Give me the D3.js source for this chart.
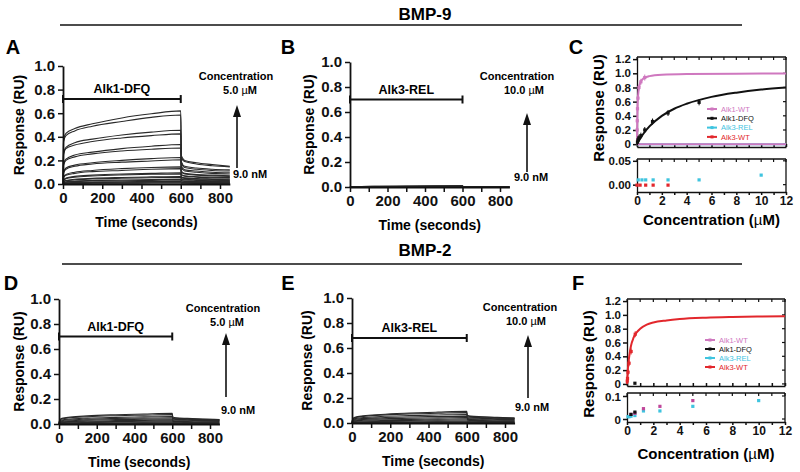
<!DOCTYPE html>
<html><head><meta charset="utf-8">
<script src="https://cdn.jsdelivr.net/npm/d3@7"></script>
<style>body{margin:0;background:#fff}svg{display:block}</style>
</head><body>
<svg id="chart" width="800" height="472"></svg>
<script>
// ---------------- DATA ----------------
const sgTimes = [0, 3, 15, 60, 150, 300, 450, 600, 603, 620, 680, 760, 850];
const timeTicks = [0, 100, 200, 300, 400, 500, 600, 700, 800];
const responseTicks = [0, 0.2, 0.4, 0.6, 0.8, 1.0];

const curvesA = [
  [0,0.38,0.43,0.47,0.51,0.56,0.595,0.62,0.24,0.20,0.18,0.165,0.15],
  [0,0.36,0.41,0.45,0.49,0.53,0.565,0.585,0.225,0.19,0.17,0.155,0.145],
  [0,0.26,0.31,0.35,0.38,0.415,0.44,0.455,0.19,0.15,0.135,0.125,0.12],
  [0,0.25,0.30,0.33,0.36,0.39,0.41,0.425,0.18,0.14,0.125,0.115,0.11],
  [0,0.17,0.21,0.245,0.27,0.30,0.32,0.335,0.15,0.12,0.11,0.10,0.095],
  [0,0.16,0.20,0.23,0.255,0.28,0.295,0.305,0.14,0.11,0.10,0.09,0.085],
  [0,0.10,0.135,0.16,0.18,0.20,0.215,0.225,0.11,0.09,0.08,0.075,0.07],
  [0,0.095,0.125,0.15,0.17,0.185,0.195,0.205,0.10,0.085,0.075,0.07,0.065],
  [0,0.06,0.08,0.10,0.115,0.13,0.14,0.145,0.08,0.07,0.062,0.058,0.055],
  [0,0.055,0.075,0.09,0.105,0.115,0.125,0.13,0.075,0.065,0.058,0.053,0.05],
  [0,0.035,0.05,0.065,0.075,0.085,0.09,0.095,0.06,0.052,0.046,0.043,0.04],
  [0,0.03,0.045,0.058,0.068,0.077,0.082,0.086,0.055,0.048,0.042,0.039,0.036],
  [0,0.02,0.03,0.04,0.048,0.055,0.06,0.063,0.045,0.04,0.035,0.032,0.03],
  [0,0.018,0.027,0.036,0.043,0.049,0.053,0.056,0.04,0.035,0.031,0.028,0.026],
  [0,0.012,0.018,0.025,0.03,0.034,0.037,0.039,0.03,0.026,0.023,0.021,0.02],
  [0,0.01,0.015,0.021,0.025,0.028,0.031,0.033,0.025,0.022,0.02,0.018,0.017],
  [0,0.006,0.01,0.013,0.016,0.019,0.021,0.022,0.018,0.016,0.014,0.013,0.012],
  [0,0.005,0.008,0.011,0.013,0.015,0.017,0.018,0.015,0.013,0.012,0.011,0.01],
  [0,0.003,0.005,0.007,0.008,0.009,0.01,0.011,0.009,0.008,0.007,0.007,0.006],
  [0,0.002,0.004,0.005,0.006,0.007,0.008,0.008,0.007,0.006,0.005,0.005,0.005]
];
const curvesB = [
  [0,0.002,0.003,0.004,0.005,0.007,0.009,0.011,0.004,0.003,0.003,0.002,0.002],
  [0,0.002,0.003,0.004,0.005,0.006,0.008,0.009,0.003,0.003,0.002,0.002,0.002],
  [0,0.001,0.002,0.003,0.004,0.005,0.006,0.007,0.003,0.002,0.002,0.002,0.001],
  [0,0.001,0.002,0.002,0.003,0.004,0.005,0.005,0.002,0.002,0.001,0.001,0.001],
  [0,0.001,0.001,0.002,0.002,0.003,0.003,0.004,0.002,0.001,0.001,0.001,0.001],
  [0,0.000,0.001,0.001,0.001,0.002,0.002,0.002,0.001,0.001,0.001,0.000,0.000]
];
const curvesD = [
  [0,0.03,0.045,0.055,0.065,0.074,0.08,0.085,0.056,0.05,0.045,0.04,0.036],
  [0,0.025,0.04,0.05,0.058,0.066,0.071,0.075,0.05,0.046,0.042,0.038,0.034],
  [0,0.02,0.032,0.04,0.047,0.053,0.057,0.06,0.045,0.042,0.038,0.035,0.032],
  [0,0.016,0.026,0.033,0.039,0.044,0.047,0.05,0.04,0.037,0.034,0.031,0.029],
  [0,0.012,0.02,0.026,0.031,0.035,0.038,0.04,0.034,0.032,0.03,0.028,0.026],
  [0,0.009,0.015,0.02,0.024,0.027,0.029,0.031,0.028,0.026,0.024,0.023,0.021],
  [0,0.006,0.011,0.015,0.018,0.02,0.022,0.023,0.021,0.02,0.019,0.018,0.017],
  [0,0.004,0.007,0.01,0.012,0.014,0.015,0.016,0.015,0.014,0.013,0.012,0.012],
  [0,0.002,0.004,0.006,0.007,0.008,0.009,0.01,0.009,0.009,0.008,0.008,0.007],
  [0,0.001,0.002,0.003,0.004,0.004,0.005,0.005,0.005,0.005,0.004,0.004,0.004]
];
const curvesE = [
  [0,0.03,0.045,0.057,0.068,0.079,0.087,0.093,0.062,0.055,0.05,0.045,0.04],
  [0,0.027,0.042,0.053,0.063,0.072,0.078,0.083,0.057,0.051,0.047,0.043,0.039],
  [0,0.022,0.035,0.044,0.052,0.059,0.064,0.068,0.05,0.046,0.042,0.039,0.036],
  [0,0.018,0.028,0.036,0.042,0.048,0.052,0.055,0.043,0.04,0.037,0.034,0.032],
  [0,0.014,0.022,0.029,0.034,0.038,0.041,0.043,0.036,0.034,0.031,0.029,0.027],
  [0,0.01,0.017,0.022,0.026,0.029,0.031,0.033,0.029,0.027,0.025,0.024,0.022],
  [0,0.007,0.012,0.016,0.019,0.021,0.023,0.024,0.022,0.021,0.019,0.018,0.017],
  [0,0.004,0.008,0.01,0.012,0.014,0.015,0.016,0.015,0.014,0.013,0.012,0.012],
  [0,0.002,0.004,0.006,0.007,0.008,0.009,0.01,0.009,0.009,0.008,0.008,0.007],
  [0,0.001,0.002,0.003,0.004,0.004,0.005,0.005,0.005,0.005,0.004,0.004,0.004]
];

// Steady-state binding (panels C and F)
const seriesNames = ["Alk1-WT", "Alk1-DFQ", "Alk3-REL", "Alk3-WT"];
const seriesColors = ["#cf78bf", "#111111", "#3fc4df", "#e2272c"];
const concTicks = [0, 1, 2, 3, 4, 5, 6, 7, 8, 9, 10, 11, 12];
const upperTicks = [0, 0.2, 0.4, 0.6, 0.8, 1.0, 1.2];

// Panel C (BMP-9)
const cFitAlk1WT_x = [0,0.01,0.02,0.05,0.1,0.2,0.3,0.5,1,2,4,8,12];
const cFitAlk1WT_y = [0,0.2,0.33,0.56,0.71,0.83,0.88,0.925,0.96,0.98,0.99,0.995,0.997];
const cPtsAlk1WT_x = [0.0098,0.0195,0.039,0.078,0.156,0.3125,0.625];
const cPtsAlk1WT_y = [0.2,0.33,0.5,0.65,0.8,0.88,0.94];
const cFitAlk1DFQ_x = [0,0.25,0.5,1,2,3,4,6,8,10,12];
const cFitAlk1DFQ_y = [0,0.077,0.143,0.25,0.4,0.5,0.57,0.667,0.727,0.77,0.8];
const cPtsAlk1DFQ_x = [0.039,0.078,0.156,0.3125,0.625,1.25,2.5,5];
const cPtsAlk1DFQ_y = [0.03,0.06,0.09,0.12,0.2,0.32,0.44,0.59];
const cLowAlk3REL_x = [0.1,0.4,0.7,1.3,2.5,5,10];
const cLowAlk3REL_y = [0.01,0.01,0.01,0.01,0.01,0.01,0.02];
const cLowAlk3WT_x = [0,0.25,0.7,1.3,2.5];
const cLowAlk3WT_y = [-0.001,-0.001,-0.001,-0.001,-0.001];

// Panel F (BMP-2)
const fFitAlk3WT_x = [0,0.05,0.1,0.2,0.3,0.5,0.75,1,1.5,2,3,4,6,8,10,12];
const fFitAlk3WT_y = [0,0.17,0.29,0.44,0.55,0.67,0.75,0.8,0.86,0.89,0.92,0.94,0.96,0.97,0.976,0.98];
const fPtsAlk3WT_x = [0.0195,0.039,0.078,0.156,0.3125,0.625];
const fPtsAlk3WT_y = [0.04,0.08,0.17,0.3,0.47,0.72];
const fLowAlk1WT_x = [0.3,0.6,1.25,2.5,5];
const fLowAlk1WT_y = [0.02,0.025,0.045,0.055,0.08];
const fLowAlk3REL_x = [0.08,0.16,0.3,0.6,1.25,2.5,5,10];
const fLowAlk3REL_y = [0.01,0.01,0.012,0.015,0.035,0.035,0.055,0.08];
const fLowAlk1DFQ_x = [0.3,0.6];
const fLowAlk1DFQ_y = [0.02,0.03];

// ---------------- DRAWING ----------------
const FONT = "'Liberation Sans', Arial, Helvetica, sans-serif";
const svg = d3.select("#chart").style("font-family", FONT);
svg.append("rect").attr("width", 800).attr("height", 472).attr("fill", "#fff");

function header(text, cx, cy, lineY, x1, x2) {
  svg.append("text").attr("x", cx).attr("y", cy).attr("text-anchor", "middle")
    .attr("font-size", 17).attr("font-weight", "bold").text(text);
  svg.append("line").attr("x1", x1).attr("x2", x2).attr("y1", lineY).attr("y2", lineY)
    .attr("stroke", "#111").attr("stroke-width", 1.6);
}
header("BMP-9", 425, 20, 25, 60, 742);
header("BMP-2", 425, 256, 264, 62, 742);

function letter(t, x, y) {
  svg.append("text").attr("x", x).attr("y", y).attr("text-anchor", "middle")
    .attr("font-size", 20).attr("font-weight", "bold").text(t);
}

function styleAxis(g, fs) {
  g.select(".domain").attr("stroke", "#111").attr("stroke-width", 1.8);
  g.selectAll(".tick line").attr("stroke", "#111").attr("stroke-width", 1.5);
  g.selectAll(".tick text").attr("font-family", FONT).attr("font-size", fs)
    .attr("font-weight", "bold").attr("fill", "#111");
}

function sensorgram(c) {
  const x = d3.scaleLinear().domain([0, 850]).range([c.x0, c.x0 + (c.x800 - c.x0) * 850 / 800]);
  const y = d3.scaleLinear().domain([0, 1]).range([c.y0, c.y1]);
  const g = svg.append("g");
  const line = d3.line().x((d, i) => x(sgTimes[i])).y(d => y(d)).curve(d3.curveMonotoneX);
  g.append("g").selectAll("path").data(c.curves).join("path")
    .attr("d", line).attr("fill", "none").attr("stroke", "#2a2a2a").attr("stroke-width", 1.1);

  const ax = g.append("g").attr("transform", `translate(${c.x0},0)`)
    .call(d3.axisLeft(y).tickValues(responseTicks).tickFormat(d3.format(".1f")).tickSize(5).tickSizeOuter(0).tickPadding(3));
  styleAxis(ax, 15);
  const bx = g.append("g").attr("transform", `translate(0,${c.y0})`)
    .call(d3.axisBottom(x).tickValues(timeTicks).tickFormat(d => d % 200 === 0 ? d : "").tickSize(5).tickSizeOuter(0).tickPadding(3));
  styleAxis(bx, 15);

  g.append("text").attr("transform", `translate(${c.ylabX},${(c.y0 + c.y1) / 2}) rotate(-90)`)
    .attr("text-anchor", "middle").attr("font-size", 14).attr("font-weight", "bold").text("Response (RU)");
  g.append("text").attr("x", (x(0) + x(850)) / 2).attr("y", c.y0 + 43).attr("text-anchor", "middle")
    .attr("font-size", 14).attr("font-weight", "bold").text("Time (seconds)");

  const by = y(c.barY);
  g.append("line").attr("x1", x(0)).attr("x2", x(600)).attr("y1", by).attr("y2", by)
    .attr("stroke", "#111").attr("stroke-width", 2);
  [0, 600].forEach(t => g.append("line").attr("x1", x(t)).attr("x2", x(t)).attr("y1", by - 4).attr("y2", by + 4)
    .attr("stroke", "#111").attr("stroke-width", 2));
  g.append("text").attr("x", (x(0) + x(600)) / 2).attr("y", by - 6).attr("text-anchor", "middle")
    .attr("font-size", 12.5).attr("font-weight", "bold").text(c.analyte);

  g.append("text").attr("x", c.concX).attr("y", c.concY).attr("text-anchor", "middle")
    .attr("font-size", 11).attr("font-weight", "bold").text("Concentration");
  const t2 = g.append("text").attr("x", c.maxX).attr("y", c.concY + 14).attr("text-anchor", "middle")
    .attr("font-size", 11).attr("font-weight", "bold");
  t2.append("tspan").text(c.maxLabel + " ");
  t2.append("tspan").attr("font-weight", "normal").text("\u00b5");
  t2.append("tspan").text("M");
  g.append("line").attr("x1", c.arrowX).attr("x2", c.arrowX).attr("y1", c.arrowBase).attr("y2", c.arrowTip + 10)
    .attr("stroke", "#111").attr("stroke-width", 1.6);
  g.append("path").attr("d", `M${c.arrowX},${c.arrowTip} L${c.arrowX - 4},${c.arrowTip + 12} L${c.arrowX + 4},${c.arrowTip + 12} Z`)
    .attr("fill", "#111");
  g.append("text").attr("x", c.minX).attr("y", c.minY).attr("text-anchor", "middle")
    .attr("font-size", 11).attr("font-weight", "bold").text("9.0 nM");
}

letter("A", 13, 54);
sensorgram({ curves: curvesA, x0: 63, x800: 220, y0: 184, y1: 66, ylabX: 24, barY: 0.72, analyte: "Alk1-DFQ",
  concX: 236, concY: 80, maxX: 240, maxLabel: "5.0", arrowX: 237, arrowTip: 105, arrowBase: 168, minX: 250, minY: 178 });
letter("B", 288, 54);
sensorgram({ curves: curvesB, x0: 350, x800: 500, y0: 187, y1: 62, ylabX: 314, barY: 0.70, analyte: "Alk3-REL",
  concX: 517, concY: 80, maxX: 524, maxLabel: "10.0 ", arrowX: 527, arrowTip: 113, arrowBase: 172, minX: 531, minY: 181 });
letter("D", 11, 290);
sensorgram({ curves: curvesD, x0: 59, x800: 210, y0: 424, y1: 299, ylabX: 24, barY: 0.70, analyte: "Alk1-DFQ",
  concX: 223, concY: 312, maxX: 227, maxLabel: "5.0", arrowX: 226, arrowTip: 333, arrowBase: 397, minX: 238, minY: 414 });
letter("E", 288, 290);
sensorgram({ curves: curvesE, x0: 352, x800: 505, y0: 423, y1: 298, ylabX: 312, barY: 0.68, analyte: "Alk3-REL",
  concX: 520, concY: 311, maxX: 526, maxLabel: "10.0 ", arrowX: 528, arrowTip: 335, arrowBase: 398, minX: 532, minY: 411 });

// ---------- binding panels ----------
function boxTicks(g, x, y, xt, yt, len) {
  const [x0, x1] = x.range(), [yb, yt0] = y.range();
  g.append("g").selectAll("line").data(xt).join("line")
    .attr("x1", d => x(d)).attr("x2", d => x(d)).attr("y1", yt0).attr("y2", yt0 + len)
    .attr("stroke", "#111").attr("stroke-width", 1.2);
  g.append("g").selectAll("line").data(yt).join("line")
    .attr("x1", x1).attr("x2", x1 - len).attr("y1", d => y(d)).attr("y2", d => y(d))
    .attr("stroke", "#111").attr("stroke-width", 1.2);
  g.append("line").attr("x1", x1).attr("x2", x1).attr("y1", yb).attr("y2", yt0).attr("stroke", "#111").attr("stroke-width", 1.3);
  g.append("line").attr("x1", x0).attr("x2", x1).attr("y1", yt0).attr("y2", yt0).attr("stroke", "#111").attr("stroke-width", 1.3);
}

function points(g, x, y, xs, ys, color, err) {
  const data = xs.map((v, i) => [v, ys[i]]);
  if (err) {
    g.append("g").selectAll("line").data(data).join("line")
      .attr("x1", d => x(d[0])).attr("x2", d => x(d[0])).attr("y1", d => y(d[1]) - 3).attr("y2", d => y(d[1]) + 3)
      .attr("stroke", color).attr("stroke-width", 1);
  }
  g.append("g").selectAll("rect").data(data).join("rect")
    .attr("x", d => x(d[0]) - 1.6).attr("y", d => y(d[1]) - 1.6).attr("width", 3.2).attr("height", 3.2)
    .attr("fill", color);
}

function fit(g, x, y, xs, ys, color) {
  const data = xs.map((v, i) => [v, ys[i]]);
  g.append("path").datum(data).attr("d", d3.line().x(d => x(d[0])).y(d => y(d[1])).curve(d3.curveMonotoneX))
    .attr("fill", "none").attr("stroke", color).attr("stroke-width", 2);
}

function legend(g, lx, ly0, dy) {
  seriesNames.forEach((n, i) => {
    const yy = ly0 + i * dy;
    g.append("line").attr("x1", lx).attr("x2", lx + 10).attr("y1", yy).attr("y2", yy)
      .attr("stroke", seriesColors[i]).attr("stroke-width", 2);
    g.append("rect").attr("x", lx + 3.5).attr("y", yy - 1.5).attr("width", 3).attr("height", 3).attr("fill", seriesColors[i]);
    g.append("text").attr("x", lx + 14).attr("y", yy + 2.7).attr("font-size", 7.5).attr("fill", seriesColors[i])
      .text(n);
  });
}

function bindingPanel(c) {
  const g = svg.append("g");
  const x = d3.scaleLinear().domain([0, 12]).range([c.x0, c.x1]);
  const yU = d3.scaleLinear().domain(c.upDom).range([c.upBot, c.upTop]);
  const yL = d3.scaleLinear().domain(c.lowDom).range([c.lowBot, c.lowTop]);

  const ua = g.append("g").attr("transform", `translate(${c.x0},0)`)
    .call(d3.axisLeft(yU).tickValues(upperTicks).tickFormat(d => d === 0 ? "0" : d3.format(".1f")(d)).tickSize(4).tickSizeOuter(0).tickPadding(2));
  styleAxis(ua, 11.5);
  ua.select(".domain").attr("stroke-width", 1.3);
  const ub = g.append("g").attr("transform", `translate(0,${c.upBot})`)
    .call(d3.axisBottom(x).tickValues(concTicks).tickFormat("").tickSize(-3).tickSizeOuter(0));
  styleAxis(ub, 11.5); ub.select(".domain").attr("stroke-width", 1.3);
  boxTicks(g, x, yU, concTicks, upperTicks, 3);

  const la = g.append("g").attr("transform", `translate(${c.x0},0)`)
    .call(d3.axisLeft(yL).tickValues(c.lowTicks).tickFormat(c.lowFmt).tickSize(4).tickSizeOuter(0).tickPadding(2));
  styleAxis(la, 11.5); la.select(".domain").attr("stroke-width", 1.3);
  la.selectAll(".tick text").attr("dy", c.lowDy);
  const lb = g.append("g").attr("transform", `translate(0,${c.lowBot})`)
    .call(d3.axisBottom(x).tickValues(concTicks).tickFormat(d => d % 2 === 0 ? d : "").tickSize(3).tickSizeOuter(0).tickPadding(1.5));
  styleAxis(lb, 12); lb.select(".domain").attr("stroke-width", 1.3);
  boxTicks(g, x, yL, concTicks, c.lowTicks, 3);

  g.append("text").attr("transform", `translate(${c.ylabX},${c.ylabY}) rotate(-90)`)
    .attr("text-anchor", "middle").attr("font-size", 15).attr("font-weight", "bold").text("Response (RU)");
  const xl = g.append("text").attr("x", (c.x0 + c.x1) / 2).attr("y", c.xlabY).attr("text-anchor", "middle")
    .attr("font-size", 15).attr("font-weight", "bold");
  xl.append("tspan").text("Concentration (");
  xl.append("tspan").attr("font-weight", "normal").text("\u00b5");
  xl.append("tspan").text("M)");

  c.draw(g, x, yU, yL);
  legend(g, c.legX, c.legY, c.legDy);
}

letter("C", 576, 54);
bindingPanel({
  x0: 637, x1: 786, upTop: 57, upBot: 147, upDom: [-0.04, 1.23],
  lowTop: 159, lowBot: 192, lowDom: [-0.0154, 0.0538], lowTicks: [0, 0.05], lowFmt: d3.format(".2f"), lowDy: "0.32em",
  ylabX: 604, ylabY: 108, xlabY: 225, legX: 707, legY: 109, legDy: 9.3,
  draw: (g, x, yU, yL) => {
    fit(g, x, yU, [0, 12], [0, 0], seriesColors[2]);
    fit(g, x, yU, [0, 12], [0, 0], seriesColors[0]);
    fit(g, x, yU, cFitAlk1WT_x, cFitAlk1WT_y, seriesColors[0]);
    points(g, x, yU, cPtsAlk1WT_x, cPtsAlk1WT_y, seriesColors[0], true);
    fit(g, x, yU, cFitAlk1DFQ_x, cFitAlk1DFQ_y, seriesColors[1]);
    points(g, x, yU, cPtsAlk1DFQ_x, cPtsAlk1DFQ_y, seriesColors[1], true);
    points(g, x, yL, cLowAlk3REL_x, cLowAlk3REL_y, seriesColors[2], false);
    points(g, x, yL, cLowAlk3WT_x, cLowAlk3WT_y, seriesColors[3], false);
  }
});

letter("F", 578, 290);
bindingPanel({
  x0: 627, x1: 785, upTop: 299, upBot: 386, upDom: [-0.03, 1.23],
  lowTop: 393, lowBot: 422, lowDom: [-0.013, 0.113], lowTicks: [0, 0.1], lowFmt: d => d === 0 ? "0" : d3.format(".1f")(d), lowDy: "0.42em",
  ylabX: 594, ylabY: 364, xlabY: 459, legX: 705, legY: 340, legDy: 9,
  draw: (g, x, yU, yL) => {
    fit(g, x, yU, fFitAlk3WT_x, fFitAlk3WT_y, seriesColors[3]);
    points(g, x, yU, fPtsAlk3WT_x, fPtsAlk3WT_y, seriesColors[3], true);
    points(g, x, yU, [0.6], [0.01], seriesColors[1], false);
    points(g, x, yL, fLowAlk3REL_x, fLowAlk3REL_y, seriesColors[2], false);
    points(g, x, yL, fLowAlk1WT_x, fLowAlk1WT_y, "#c0479a", false);
    points(g, x, yL, fLowAlk1DFQ_x, fLowAlk1DFQ_y, seriesColors[1], false);
  }
});
</script>
</body></html>
